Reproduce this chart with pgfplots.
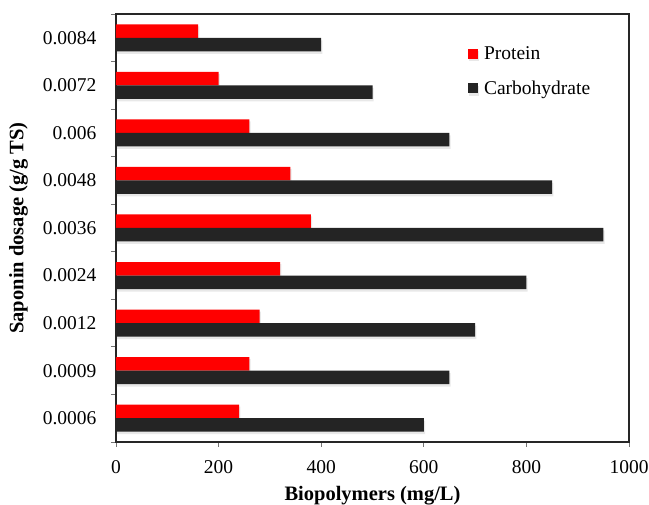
\documentclass[border=0pt]{standalone}
\usepackage{fontspec}
\setmainfont{Liberation Serif}
\usepackage{pgfplots}
\pgfplotsset{compat=1.18}
\usetikzlibrary{shadows}

\definecolor{protein}{RGB}{255,0,0}
\definecolor{carb}{RGB}{36,36,36}

\newcommand{\tickfont}{\fontsize{19.5bp}{23bp}\selectfont}
\newcommand{\labelfont}{\bfseries\fontsize{20.5bp}{24bp}\selectfont}

\begin{document}
\begin{tikzpicture}
\begin{axis}[
  scale only axis,
  width=513bp, height=428bp,
  xbar, bar width=13.5bp,
  xmin=0, xmax=1000,
  ymin=-0.5, ymax=8.5,
  xtick={0,200,...,1000},
  ytick={-0.5,0.5,...,8.5},
  y tick label as interval,
  yticklabels={0.0006,0.0009,0.0012,0.0024,0.0036,0.0048,0.006,0.0072,0.0084},
  tick align=outside,
  major tick length=5bp,
  tick pos=left,
  axis line style={line width=1.1bp, black!85},
  tick style={line width=0.8bp, black!55},
  tick label style={font=\tickfont},
  yticklabel style={xshift=-11bp},
  xticklabel style={yshift=-10.5bp},
  /pgf/number format/assume math mode=true,
  /pgf/number format/1000 sep={},
  label style={font=\labelfont},
  xlabel={Biopolymers (mg/L)},
  ylabel={Saponin dosage (g/g TS)},
  xlabel style={yshift=-5.5bp},
  ylabel shift=8bp,
  legend style={at={(0.68,0.934)}, anchor=north west, draw=none, fill=none,
                font=\tickfont, row sep=16bp},
  legend cell align=left,
]
% Protein (upper bar in each group)
\addplot[fill=protein, draw=none, bar shift=6.75bp,
  drop shadow={shadow xshift=1.2bp, shadow yshift=-2bp, opacity=0.18},
  legend image code/.code={\fill[protein] (0bp,-5bp) rectangle (10bp,5bp);
                           \path (14bp,0bp);}]
  coordinates {(240,0) (260,1) (280,2) (320,3) (380,4) (340,5) (260,6) (200,7) (160,8)};
\addlegendentry{Protein}
% Carbohydrate (lower bar in each group)
\addplot[fill=carb, draw=none, bar shift=-6.75bp,
  drop shadow={shadow xshift=1.2bp, shadow yshift=-2.5bp, opacity=0.18},
  legend image code/.code={\fill[carb] (0bp,-5bp) rectangle (10bp,5bp);
                           \path (14bp,0bp);}]
  coordinates {(600,0) (650,1) (700,2) (800,3) (950,4) (850,5) (650,6) (500,7) (400,8)};
\addlegendentry{Carbohydrate}
\end{axis}
% page margins around the plot area
\pgfresetboundingbox
\path (current axis.south west) ++(-116bp,-63bp);
\path (current axis.north east) ++(20bp,14bp);
\end{tikzpicture}
\end{document}
